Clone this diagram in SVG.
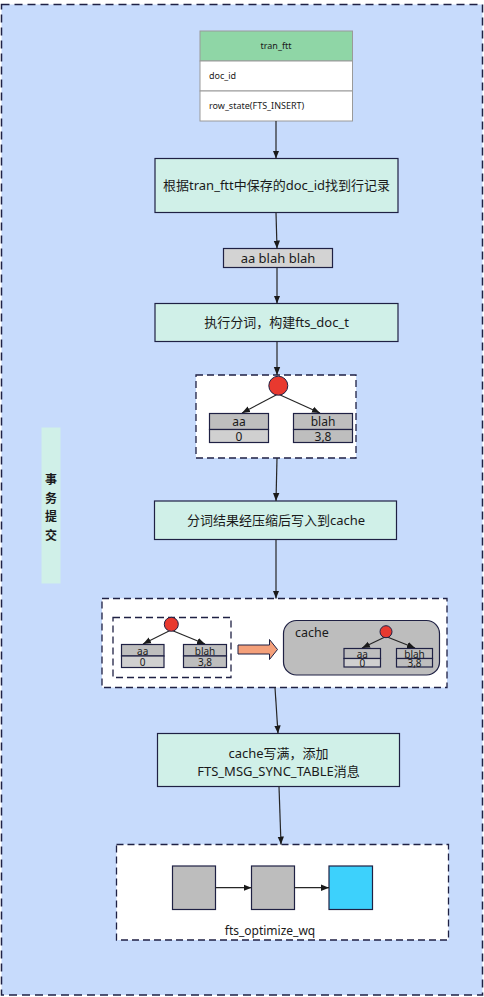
<svg xmlns="http://www.w3.org/2000/svg" width="484" height="997" viewBox="0 0 484 997">
<style>
text{font-family:"Noto Sans","Noto Sans CJK SC",sans-serif;fill:#1a1a1a;}
.node{fill:#D0F0E8;stroke:#1F2144;stroke-width:1.2;}
.dash{fill:#FFFFFF;stroke:#1F2144;stroke-width:1.3;stroke-dasharray:7 4;}
.cell{stroke:#1F2144;stroke-width:1.2;}
.top{fill:#BEBEBE;}
.bot{fill:#D0D0D0;}
.con{stroke:#262626;stroke-width:1.2;fill:none;marker-end:url(#ah);}
.t13{font-size:13px;text-anchor:middle;}
.t12{font-size:12px;text-anchor:middle;}
.t10{font-size:10px;text-anchor:middle;}
.t9{font-size:9px;}
.dot{fill:#E8392F;stroke:#1F2144;stroke-width:1;}
.sq{stroke:#1F2144;stroke-width:1.2;}
</style>
<defs>
<marker id="ah" markerUnits="userSpaceOnUse" markerWidth="8" markerHeight="8" viewBox="0 0 8 8" refX="8" refY="4" orient="auto">
<path d="M0,0.8 L8,4 L0,7.2 Z" fill="#1a1a1a"/>
</marker>
</defs>
<g id="frame">
<rect x="1.5" y="4.5" width="481" height="990.5" fill="#C7DBFC" stroke="#1F2144" stroke-width="1.5" stroke-dasharray="8 5"/>
</g>
<g id="label-commit">
<rect x="41.5" y="427.5" width="19" height="156" fill="#D0F0E8"/>
<text x="51" y="484" class="t12" font-weight="bold">事</text>
<text x="51" y="503" class="t12" font-weight="bold">务</text>
<text x="51" y="521" class="t12" font-weight="bold">提</text>
<text x="51" y="540" class="t12" font-weight="bold">交</text>
</g>
<g id="table-tran-ftt">
<rect x="200" y="31" width="152.5" height="30" fill="#8FD6A6" stroke="#9a9a9a" stroke-width="1"/>
<rect x="200" y="61" width="152.5" height="30" fill="#FFFFFF" stroke="#9a9a9a" stroke-width="1"/>
<rect x="200" y="91" width="152.5" height="30" fill="#FFFFFF" stroke="#9a9a9a" stroke-width="1"/>
<text x="276" y="49" class="t9" text-anchor="middle">tran_ftt</text>
<text x="209" y="79" class="t9">doc_id</text>
<text x="209" y="109" class="t9">row_state(FTS_INSERT)</text>
</g>
<g id="node-find-row">
<rect class="node" x="155" y="158.5" width="243" height="54"/>
<text x="276.5" y="190" class="t13">根据tran_ftt中保存的doc_id找到行记录</text>
</g>
<g id="node-text">
<rect x="223.5" y="248.5" width="109" height="19" fill="#D3D3D3" stroke="#1F2144" stroke-width="1.2"/>
<text x="278" y="262.5" class="t13">aa blah blah</text>
</g>
<g id="node-tokenize">
<rect class="node" x="155" y="303.5" width="243" height="38"/>
<text x="276.5" y="327" class="t13">执行分词，构建fts_doc_t</text>
</g>
<g id="node-tree">
<rect class="dash" x="196" y="375" width="160" height="83"/>
<line x1="278" y1="394" x2="242" y2="413" class="con"/>
<line x1="278" y1="394" x2="320" y2="413" class="con"/>
<circle class="dot" cx="278.3" cy="385.7" r="9.5"/>
<rect class="cell top" x="209.5" y="413.5" width="59" height="16"/>
<rect class="cell bot" x="209.5" y="429.5" width="59" height="13"/>
<text x="239" y="426" class="t12">aa</text>
<text x="239" y="441" class="t12">0</text>
<rect class="cell top" x="293.5" y="413.5" width="59" height="16"/>
<rect class="cell top" x="293.5" y="429.5" width="59" height="13"/>
<text x="323" y="426" class="t12">blah</text>
<text x="323" y="441" class="t12">3,8</text>
</g>
<g id="node-write-cache">
<rect class="node" x="154.5" y="501" width="242" height="38.5"/>
<text x="276" y="525" class="t13">分词结果经压缩后写入到cache</text>
</g>
<g id="node-cache-view">
<rect class="dash" x="102" y="598.5" width="345" height="89"/>
<rect class="dash" x="113" y="617.5" width="118" height="60"/>
<line x1="171" y1="630" x2="143" y2="644" class="con"/>
<line x1="171" y1="630" x2="205" y2="644" class="con"/>
<circle class="dot" cx="171.3" cy="624.3" r="7"/>
<rect class="cell top" x="121.5" y="644.5" width="42.5" height="11.5"/>
<rect class="cell bot" x="121.5" y="656" width="42.5" height="11.5"/>
<text x="142.7" y="654.5" class="t10">aa</text>
<text x="142.7" y="666" class="t10">0</text>
<rect class="cell top" x="183.5" y="644.5" width="43" height="11.5"/>
<rect class="cell top" x="183.5" y="656" width="43" height="11.5"/>
<text x="205" y="654.5" class="t10">blah</text>
<text x="205" y="666" class="t10">3,8</text>
<path d="M238,645 L269.5,645 L269.5,639.5 L277.5,649.5 L269.5,659.5 L269.5,654 L238,654 Z" fill="#F4A07A" stroke="#1F2144" stroke-width="1"/>
<rect x="283.5" y="620.5" width="156" height="54.5" rx="13" ry="13" fill="#BDBDBD" stroke="#1F2144" stroke-width="1.2"/>
<text x="295" y="637" font-size="12.5">cache</text>
<line x1="386" y1="636.5" x2="362" y2="648" class="con"/>
<line x1="386" y1="636.5" x2="415" y2="648" class="con"/>
<circle class="dot" cx="386" cy="631.7" r="6"/>
<rect class="cell top" x="344" y="648.5" width="36.5" height="10"/>
<rect class="cell bot" x="344" y="658.5" width="36.5" height="8.5"/>
<text x="362.3" y="657.5" class="t10">aa</text>
<text x="362.3" y="666.5" class="t10">0</text>
<rect class="cell top" x="396.5" y="648.5" width="36" height="10"/>
<rect class="cell top" x="396.5" y="658.5" width="36" height="8.5"/>
<text x="414.5" y="657.5" class="t10">blah</text>
<text x="414.5" y="666.5" class="t10">3,8</text>
</g>
<g id="node-cache-full">
<rect class="node" x="157.5" y="733.5" width="242" height="53"/>
<text x="278.5" y="757.5" class="t13">cache写满，添加</text>
<text x="278.5" y="776" class="t13">FTS_MSG_SYNC_TABLE消息</text>
</g>
<g id="node-optimize-wq">
<rect class="dash" x="116.5" y="844.5" width="332" height="95.5"/>
<rect class="sq" x="172.5" y="866" width="43" height="43.5" fill="#BDBDBD"/>
<rect class="sq" x="251.5" y="866" width="43" height="43.5" fill="#BDBDBD"/>
<rect class="sq" x="329" y="866" width="43.5" height="43.5" fill="#3DD1FC"/>
<line x1="215.5" y1="887.7" x2="251.5" y2="887.7" class="con"/>
<line x1="294.5" y1="887.7" x2="329" y2="887.7" class="con"/>
<text x="270" y="935" class="t12">fts_optimize_wq</text>
</g>
<g id="connectors">
<line x1="276" y1="121" x2="276" y2="158.5" class="con"/>
<line x1="276" y1="212.5" x2="277" y2="248.5" class="con"/>
<line x1="277" y1="267.5" x2="277" y2="303.5" class="con"/>
<line x1="277" y1="341.5" x2="277" y2="375" class="con"/>
<line x1="277" y1="458" x2="276" y2="501" class="con"/>
<line x1="276" y1="539.5" x2="276" y2="598.5" class="con"/>
<line x1="275" y1="687.5" x2="278" y2="733.5" class="con"/>
<line x1="279" y1="786.5" x2="281" y2="844.5" class="con"/>
</g>
</svg>
